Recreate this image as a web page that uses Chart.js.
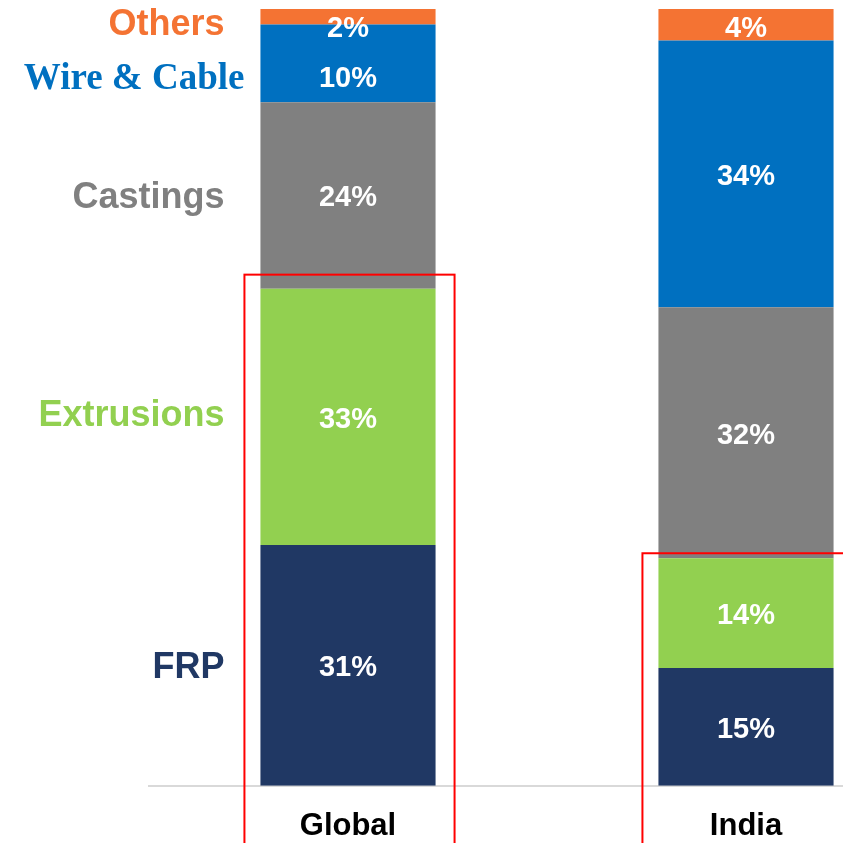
<!DOCTYPE html>
<html>
<head>
<meta charset="utf-8">
<script src="https://cdn.jsdelivr.net/npm/chart.js@4"></script>
<style>
  html, body { margin: 0; padding: 0; overflow: hidden; background: #fff; }
</style>
</head>
<body>
<canvas id="myChart" width="960" height="862"></canvas>
<script>
// data (percent share per region)
const regions = ['Global', 'India'];
const segments = ['FRP', 'Extrusions', 'Castings', 'Wire & Cable', 'Others'];
const frp = [31, 15];
const extrusions = [33, 14];
const castings = [24, 32];
const wireCable = [10, 34];
const others = [2, 4];

const colors = ['#203864', '#92D050', '#808080', '#0070C0', '#F47333'];
const sans = "'Liberation Sans', Arial, sans-serif";

const series = [frp, extrusions, castings, wireCable, others];
// 100% stacked, like the original Excel chart
const totals = regions.map((r, i) => series.reduce((s, arr) => s + arr[i], 0));

const datasets = series.map((arr, k) => ({
    label: segments[k],
    data: arr.map((v, i) => v / totals[i] * 100),
    backgroundColor: colors[k],
    borderWidth: 0,
    categoryPercentage: 1,
    barPercentage: 0.44
}));

// highlight boxes around FRP + Extrusions
const boxPad = [14, 5];

const overlay = {
    id: 'overlay',
    afterDatasetsDraw(chart) {
        const ctx = chart.ctx;
        const area = chart.chartArea;
        ctx.save();
        regions.forEach((r, i) => {
            let prev = -Infinity;
            for (let k = series.length - 1; k >= 0; k--) {
                const bar = chart.getDatasetMeta(k).data[i];
                const mid = (bar.y + bar.base) / 2;
                let y = Math.max(mid, area.top + 17, prev + 50);
                prev = y;
                y += 3; // middle baseline sits a bit high
                ctx.fillStyle = '#fff';
                ctx.font = 'bold 29px ' + sans;
                ctx.textAlign = 'center';
                ctx.textBaseline = 'middle';
                ctx.fillText(series[k][i] + '%', bar.x, y);

                if (i === 0) {
                    ctx.fillStyle = colors[k];
                    ctx.textAlign = 'right';
                    let lx = bar.x - bar.width / 2 - 36;
                    if (k === 3) {
                        ctx.font = "bold 37px 'Liberation Serif', 'Times New Roman', serif";
                        lx += 20;
                    } else {
                        ctx.font = 'bold 36px ' + sans;
                    }
                    let ly = y;
                    if (k === 4) ly -= 4;
                    if (k === 1) ly -= 4;
                    ctx.fillText(segments[k], lx, ly);
                }
            }

            // red box
            const ext = chart.getDatasetMeta(1).data[i];
            const left = ext.x - ext.width / 2 - 16;
            const right = ext.x + ext.width / 2 + 19;
            const top = ext.y - boxPad[i];
            ctx.strokeStyle = '#FF0000';
            ctx.lineWidth = 2;
            ctx.strokeRect(left, top, right - left, chart.height + 10 - top);
        });
        ctx.restore();
    }
};

new Chart(document.getElementById('myChart'), {
    type: 'bar',
    data: {
        labels: regions,
        datasets: datasets
    },
    options: {
        responsive: false,
        animation: false,
        layout: { padding: { left: 149, right: 15, top: 9, bottom: 3 } },
        plugins: {
            legend: { display: false },
            tooltip: { enabled: false }
        },
        scales: {
            x: {
                stacked: true,
                grid: { display: false },
                border: { display: true, color: '#D9D9D9', width: 2 },
                ticks: {
                    color: '#000',
                    padding: 14,
                    font: { family: sans, size: 31, weight: 'bold', lineHeight: 1.2 }
                }
            },
            y: {
                stacked: true,
                display: false,
                min: 0,
                max: 100
            }
        }
    },
    plugins: [overlay]
});
</script>
</body>
</html>
